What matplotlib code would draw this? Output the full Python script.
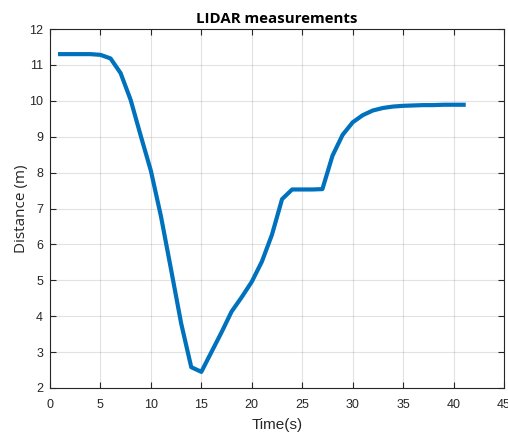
import matplotlib
matplotlib.use('Agg')
import matplotlib.pyplot as plt

# LIDAR readings, one per second
time_s = list(range(1, 42))
distance_m = [11.30, 11.30, 11.30, 11.30, 11.28, 11.18, 10.77, 10.02, 9.02, 8.05,
              6.78, 5.30, 3.80, 2.58, 2.45, 3.00, 3.55, 4.13, 4.53, 4.96,
              5.52, 6.27, 7.26, 7.53, 7.53, 7.53, 7.54, 8.47, 9.05, 9.40,
              9.60, 9.73, 9.80, 9.84, 9.86, 9.87, 9.88, 9.88, 9.89, 9.89,
              9.89]

xticks = list(range(0, 50, 5))
yticks = list(range(2, 13))

fig = plt.figure(figsize=(5.08, 4.34), dpi=100)
ax = fig.add_axes([50/508, 46/434, 454/508, 359/434])

ax.plot(time_s, distance_m, color='#0072BD', linewidth=3)

ax.set_xlim(0, 45)
ax.set_ylim(2, 12)
ax.set_xticks(xticks)
ax.set_yticks(yticks)

# MATLAB look: ticks inside on all sides, light grid
ax.tick_params(direction='in', top=True, right=True, length=4,
               colors='#262626', labelsize=9, width=0.8)
ax.tick_params(axis='x', pad=8)
ax.tick_params(axis='y', pad=5)
for lab in ax.get_xticklabels() + ax.get_yticklabels():
    lab.set_fontfamily('Liberation Sans')
for s in ax.spines.values():
    s.set_color('#262626')
    s.set_linewidth(0.8)
ax.grid(True, color='#262626', alpha=0.13, linewidth=0.8)
ax.set_axisbelow(True)

ax.set_title('LIDAR measurements', fontsize=10.8, fontweight='bold',
             fontfamily='Open Sans', pad=4)
ax.set_xlabel('Time(s)', fontsize=11, fontfamily='Liberation Sans',
              color='#262626', labelpad=5)
ax.set_ylabel('Distance (m)', fontsize=11, fontfamily='Open Sans',
              color='#262626', labelpad=0)

fig.savefig('out.png', dpi=100)
